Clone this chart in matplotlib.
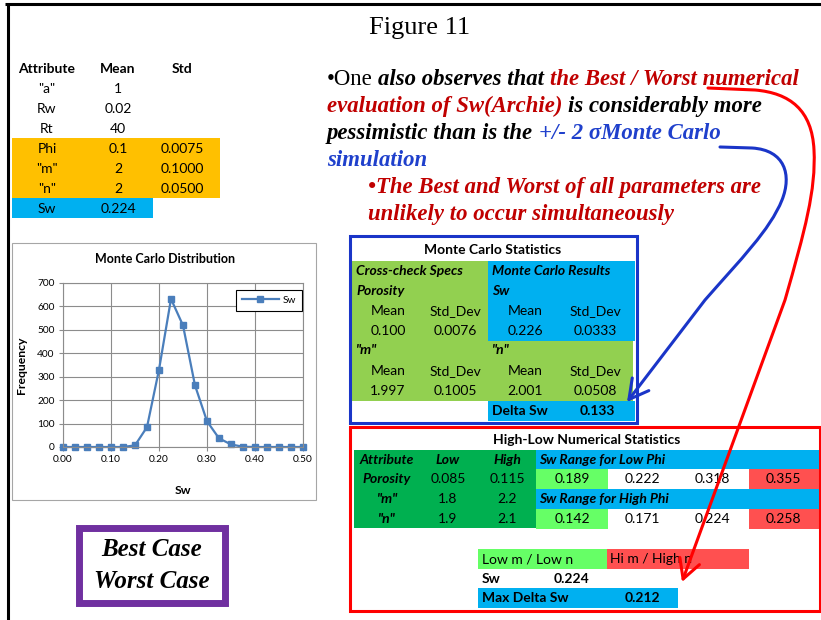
import matplotlib
matplotlib.use('Agg')
import matplotlib.pyplot as plt
from matplotlib.patches import Rectangle, FancyArrowPatch
from matplotlib.path import Path

# Data
sw_bins = [0.0, 0.025, 0.05, 0.075, 0.1, 0.125, 0.15, 0.175, 0.2, 0.225, 0.25,
           0.275, 0.3, 0.325, 0.35, 0.375, 0.4, 0.425, 0.45, 0.475, 0.5]
sw_freq = [0, 0, 0, 0, 0, 0, 7, 85, 330, 632, 519, 263, 110, 37, 11, 1, 0, 0, 0, 0, 0]
x_ticks = [0.0, 0.1, 0.2, 0.3, 0.4, 0.5]
y_ticks = [0, 100, 200, 300, 400, 500, 600, 700]

in_attr = ['"a"', 'Rw', 'Rt', 'Phi', '"m"', '"n"', 'Sw']
in_mean = ['1', '0.02', '40', '0.1', '2', '2', '0.224']
in_std = ['', '', '', '0.0075', '0.1000', '0.0500', '']

mc_phi = ['0.100', '0.0076']
mc_sw = ['0.226', '0.0333']
mc_m = ['1.997', '0.1005']
mc_n = ['2.001', '0.0508']
mc_delta = '0.133'

hl_attr = ['Porosity', '"m"', '"n"']
hl_low = ['0.085', '1.8', '1.9']
hl_high = ['0.115', '2.2', '2.1']
sw_low_phi = ['0.189', '0.222', '0.318', '0.355']
sw_high_phi = ['0.142', '0.171', '0.224', '0.258']
sw_base = '0.224'
max_delta = '0.212'

ORANGE = '#FFC000'
BLUE = '#00B0F0'
LGREEN = '#92D050'
DGREEN = '#00B050'
BGREEN = '#66FF66'
SALMON = '#FF5050'
TRED = '#C00000'
TBLUE = '#1F40CC'
SANS = 'Lato'
SERIF = 'Liberation Serif'
FS = 10

fig = plt.figure(figsize=(8.21, 6.2), dpi=100)
ax = fig.add_axes([0, 0, 1, 1])
ax.set_xlim(0, 821)
ax.set_ylim(620, 0)
ax.axis('off')
renderer = fig.canvas.get_renderer()


def rect(x0, y0, x1, y1, color, **kw):
    ax.add_patch(Rectangle((x0, y0), x1 - x0, y1 - y0, facecolor=color,
                           edgecolor='none', **kw))


def box(x0, y0, x1, y1, color, lw):
    ax.add_patch(Rectangle((x0, y0), x1 - x0, y1 - y0, facecolor='none',
                           edgecolor=color, lw=lw, zorder=5))


def txt(x, y, s, ha='center', size=FS, weight='normal', style='normal'):
    ax.text(x, y, s, ha=ha, va='center', fontsize=size, family=SANS,
            weight=weight, style=style)


def rich(x, y, parts, size=16.4):
    for s, color, style, weight in parts:
        kw = dict(fontsize=size, family=SERIF, style=style, weight=weight)
        t = ax.text(0, 0, 'a a', **kw)
        w1 = t.get_window_extent(renderer).width
        t.set_text('aa')
        sp = w1 - t.get_window_extent(renderer).width
        t.remove()
        lead = len(s) - len(s.lstrip(' '))
        trail = len(s) - len(s.rstrip(' '))
        x += lead * sp
        t = ax.text(x, y, s.strip(' '), color=color, va='baseline', ha='left', **kw)
        x += t.get_window_extent(renderer).width + trail * sp


# slide frame
ax.plot([5, 821], [4, 4], color='black', lw=2.2, solid_capstyle='butt')
ax.plot([8, 8], [4, 620], color='black', lw=2.2, solid_capstyle='butt')
ax.text(420, 28, 'Figure 11', ha='center', va='center', fontsize=19, family=SERIF)

# input table
rect(12, 138, 220, 198, ORANGE)
rect(12, 198, 153, 218, BLUE)
txt(47, 69, 'Attribute', weight='bold')
txt(118, 69, 'Mean', weight='bold')
txt(182, 69, 'Std', weight='bold')
for i in range(len(in_attr)):
    y = 89 + 20 * i
    txt(47, y, in_attr[i])
    txt(118, y, in_mean[i])
    txt(182, y, in_std[i])

# Monte Carlo distribution chart
ax.add_patch(Rectangle((12, 243), 304, 257, facecolor='white', edgecolor='#A6A6A6', lw=0.8))
ax.text(165, 259, 'Monte Carlo Distribution', ha='center', va='center', fontsize=9,
        family=SANS, weight='bold')
ax.text(22, 365, 'Frequency', ha='center', va='center', rotation=90, fontsize=8.8,
        family=SANS, weight='bold')
ax.text(183, 490, 'Sw', ha='center', va='center', fontsize=8.8, family=SANS, weight='bold')

ax2 = fig.add_axes([63 / 821, 1 - 447 / 620, 240 / 821, 164 / 620])
ax2.plot(sw_bins, sw_freq, color='#4A7EBB', lw=1.6, marker='s', markersize=4.5,
         label='Sw', clip_on=False)
ax2.set_xlim(0, 0.5)
ax2.set_ylim(0, 700)
ax2.set_xticks(x_ticks)
ax2.set_xticklabels(['%.2f' % v for v in x_ticks])
ax2.set_yticks(y_ticks)
ax2.grid(True, color='#8C8C8C', lw=0.8)
ax2.set_axisbelow(True)
for sp in ax2.spines.values():
    sp.set_color('#8C8C8C')
    sp.set_linewidth(0.8)
ax2.tick_params(labelsize=7.3, length=3, color='#8C8C8C', pad=3)
for lab in ax2.get_xticklabels() + ax2.get_yticklabels():
    lab.set_family(SANS)
leg = ax2.legend(loc='upper right', bbox_to_anchor=(0.997, 0.96), borderaxespad=0,
                 fancybox=False, framealpha=1, handlelength=3.6, borderpad=0.6,
                 handletextpad=0.4, prop={'family': SANS, 'size': 7.3})
leg.get_frame().set_edgecolor('black')
leg.get_frame().set_linewidth(0.8)

# Best / Worst case box
ax.add_patch(Rectangle((78.5, 527.5), 146, 75, facecolor='white', edgecolor='#7030A0', lw=5))
ax.text(152, 550, 'Best Case', ha='center', va='center', fontsize=18, family=SERIF,
        style='italic', weight='bold')
ax.text(152, 582, 'Worst Case', ha='center', va='center', fontsize=18, family=SERIF,
        style='italic', weight='bold')

# commentary text
BI = ('italic', 'bold')
rich(327, 85, [('•One ', 'black', 'normal', 'normal'),
               ('also observes that ', 'black', *BI),
               ('the Best / Worst numerical', TRED, *BI)])
rich(327, 112, [('evaluation of Sw(Archie)', TRED, *BI),
                (' is considerably more', 'black', *BI)])
rich(327, 139, [('pessimistic than is the ', 'black', *BI),
                ('+/- 2 σMonte Carlo', TBLUE, *BI)])
rich(327, 166, [('simulation', TBLUE, *BI)])
rich(368, 193, [('•The Best and Worst of all parameters are', TRED, *BI)])
rich(368, 220, [('unlikely to occur simultaneously', TRED, *BI)])

# Monte Carlo statistics table
rect(352, 261, 488, 401, LGREEN)
rect(488, 261, 635, 341, BLUE)
rect(488, 341, 633, 401, LGREEN)
rect(488, 401, 635, 421, BLUE)
box(350, 236, 637, 423, '#1A35C8', 2.2)
txt(493, 250, 'Monte Carlo Statistics', weight='bold')
txt(356, 271, 'Cross-check Specs', ha='left', weight='bold', style='italic')
txt(492, 271, 'Monte Carlo Results', ha='left', weight='bold', style='italic')
txt(356, 291, 'Porosity', ha='left', weight='bold', style='italic')
txt(492, 291, 'Sw', ha='left', weight='bold', style='italic')
txt(356, 350, '"m"', ha='left', weight='bold', style='italic')
txt(492, 350, '"n"', ha='left', weight='bold', style='italic')
cols = [388, 455, 525, 595]
for yh, yv, vals in [(311, 331, mc_phi + mc_sw), (371, 391, mc_m + mc_n)]:
    for c, h in zip(cols, ['Mean', 'Std_Dev', 'Mean', 'Std_Dev']):
        txt(c, yh, h)
    for c, v in zip(cols, vals):
        txt(c, yv, v)
txt(492, 411, 'Delta Sw', ha='left', weight='bold')
txt(597, 411, mc_delta, weight='bold')

# High-low numerical statistics table
rect(354, 450, 536, 528, DGREEN)
rect(536, 450, 820, 469, BLUE)
rect(536, 489, 820, 509, BLUE)
for y0 in (469, 509):
    rect(536, y0, 608, y0 + 20, BGREEN)
    rect(749, y0, 820, y0 + 20, SALMON)
box(350, 427, 820, 611, '#FF0000', 2.2)
txt(587, 440, 'High-Low Numerical Statistics', weight='bold')
txt(387, 460, 'Attribute', weight='bold', style='italic')
txt(448, 460, 'Low', weight='bold', style='italic')
txt(507, 460, 'High', weight='bold', style='italic')
txt(539, 460, 'Sw Range for Low Phi', ha='left', weight='bold', style='italic')
txt(539, 499, 'Sw Range for High Phi', ha='left', weight='bold', style='italic')
for i, y in enumerate([479, 499, 519]):
    txt(387, y, hl_attr[i], weight='bold', style='italic')
    txt(448, y, hl_low[i])
    txt(507, y, hl_high[i])
vcols = [572, 642, 712, 783]
for y, vals in [(479, sw_low_phi), (519, sw_high_phi)]:
    for c, v in zip(vcols, vals):
        txt(c, y, v)
rect(478, 549, 607, 569, BGREEN)
rect(607, 549, 749, 569, SALMON)
rect(478, 588, 678, 608, BLUE)
txt(482, 559, 'Low m / Low n', ha='left')
txt(610, 559, 'Hi m / High n', ha='left')
txt(482, 579, 'Sw', ha='left', weight='bold')
txt(572, 579, sw_base, weight='bold')
txt(482, 598, 'Max Delta Sw', ha='left', weight='bold')
txt(642, 598, max_delta, weight='bold')

# hand-drawn arrows
red_path = Path([(708, 88), (755, 90), (790, 93), (812, 110), (814, 150),
                 (816, 190), (805, 230), (785, 300), (682, 582)],
                [Path.MOVETO, Path.LINETO, Path.CURVE4, Path.CURVE4, Path.CURVE4,
                 Path.CURVE4, Path.CURVE4, Path.CURVE4, Path.LINETO])
blue_path = Path([(720, 147), (752, 148), (785, 150), (792, 175), (782, 200),
                  (770, 230), (740, 260), (705, 300), (627, 402)],
                 [Path.MOVETO, Path.LINETO, Path.CURVE4, Path.CURVE4, Path.CURVE4,
                  Path.CURVE4, Path.CURVE4, Path.CURVE4, Path.LINETO])
for p, col in [(red_path, '#FF0000'), (blue_path, '#1A35C8')]:
    ax.add_patch(FancyArrowPatch(path=p, arrowstyle='->,head_length=0.55,head_width=0.3',
                                 mutation_scale=25, lw=2.2, color=col, zorder=10))

fig.savefig('out.png', dpi=100)
